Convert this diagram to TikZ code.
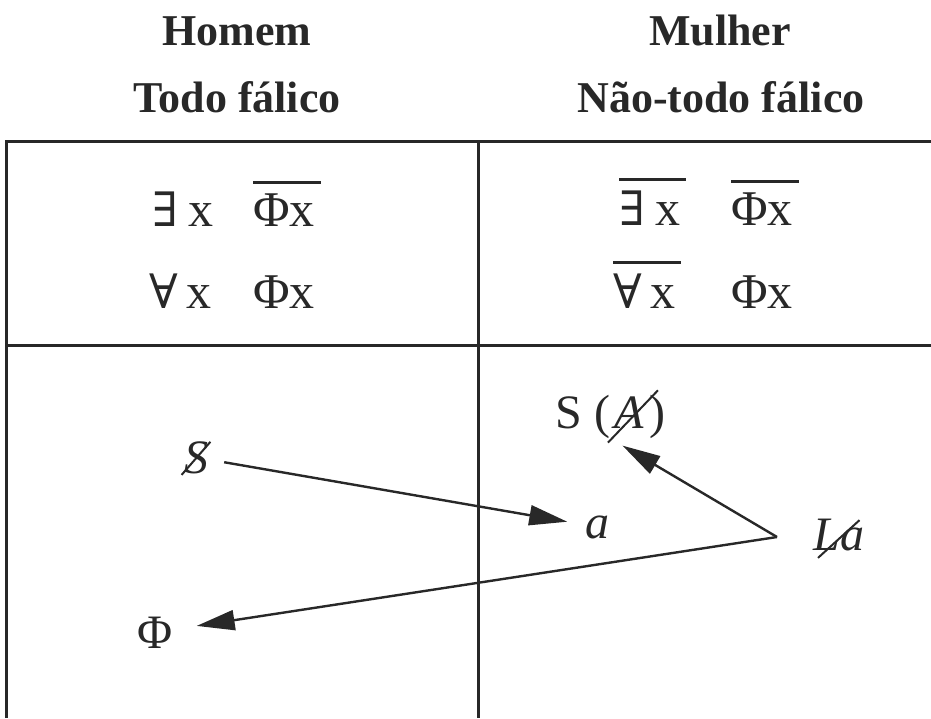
\documentclass[tikz,border=0pt]{standalone}
\usepackage{fontspec}
\setmainfont{Liberation Serif}
\newfontfamily\logicfont[Scale=0.95]{DejaVu Serif}
\usetikzlibrary{arrows.meta, calc}
\definecolor{inkgray}{RGB}{40,40,40}
% negation bar over a formula
\newcommand{\negbar}[1]{\vbox{\hrule height 1.5pt\kern 4.5pt\hbox{#1\kern 3pt}}}
\tikzset{
  % table rules
  tablerule/.style={line width=1.5pt, color=inkgray},
  % column titles
  coltitle/.style={anchor=base, inner sep=0pt, text=inkgray,
    font=\fontsize{22}{26}\selectfont\bfseries},
  % formulas of sexuation
  formula/.style={anchor=base west, inner sep=0pt, text=inkgray,
    font=\fontsize{25}{30}\selectfont},
  % symbols of the lower part
  matheme/.style={inner sep=0pt, text=inkgray, font=\fontsize{24}{29}\selectfont},
  barstroke/.style={line width=1pt, color=inkgray},
  lacanarrow/.style={-{Triangle[length=19pt,width=10pt]}, line width=1.2pt, color=inkgray}
}

\begin{document}
\begin{tikzpicture}[x=0.5pt, y=-0.5pt]
  \useasboundingbox (0,0) rectangle (931,718);

  % Titles
  \node[coltitle] (homem) at (237,45) {Homem};
  \node[coltitle] (todo) at (237,112) {Todo fálico};
  \node[coltitle] (mulher) at (720,45) {Mulher};
  \node[coltitle] (naotodo) at (721,112) {Não-todo fálico};

  % Table
  \draw[tablerule] (6,718) -- (6,141) -- (931,141);
  \draw[tablerule] (478,141) -- (478,718);
  \draw[tablerule] (6,345) -- (931,345);

  % Formulas, man side
  \node[formula] (exh) at (152,226) {{\logicfont ∃}\kern5pt x};
  \node[formula] (nphih) at (253,226) {\negbar{Φx}};
  \node[formula] (allh) at (149,308) {{\logicfont ∀}\kern4pt x};
  \node[formula] (phih) at (253,308) {Φx};

  % Formulas, woman side
  \node[formula] (nexw) at (619,225) {\negbar{{\logicfont ∃}\kern5pt x}};
  \node[formula] (nphiw) at (731,225) {\negbar{Φx}};
  \node[formula] (nallw) at (613,308) {\negbar{{\logicfont ∀}\kern4pt x}};
  \node[formula] (phiw) at (731,308) {Φx};

  % Lower part
  \node[matheme, anchor=base] (sbar) at (196,473) {\textit{S}};
  \node[matheme, anchor=base west] (obja) at (585,538) {\textit{a}};
  \node[matheme, anchor=base west] (sofa) at (555,428) {S (\kern2pt\textit{A}\kern3pt)};
  \node[matheme, anchor=base west] (la) at (813,550) {\textit{La}};
  \node[matheme, anchor=base] (phi) at (155,648) {Φ};
  \coordinate (lafrom) at (777,537);

  % Bars
  \draw[barstroke] ([shift={(-1pt,-0.5pt)}]sbar.south west) -- ([shift={(1pt,-0.5pt)}]sbar.north east);
  \draw[barstroke] ([shift={(-29pt,-2pt)}]sofa.south east) -- ([shift={(-4pt,2pt)}]sofa.north east);
  \draw[barstroke] ([shift={(2.5pt,-3.5pt)}]la.south west) -- ([shift={(-2.5pt,-1pt)}]la.north east);

  % Arrows
  \draw[lacanarrow, shorten <=8pt, shorten >=9pt] (sbar) -- (obja);
  \draw[lacanarrow] (lafrom) -- ([xshift=6pt, yshift=-3.5pt]sofa.south);
  \draw[lacanarrow, shorten >=12pt] (lafrom) -- (phi);
\end{tikzpicture}
\end{document}
